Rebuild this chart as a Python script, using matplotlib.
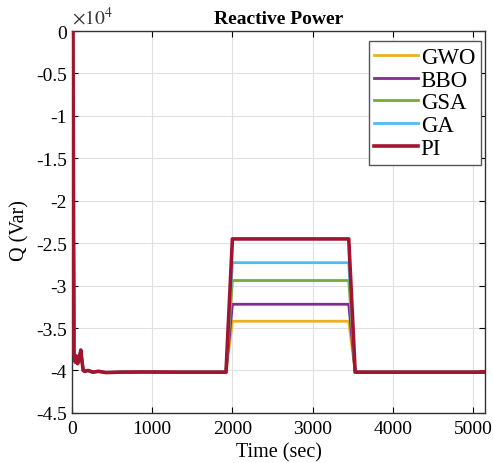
import matplotlib
matplotlib.use("Agg")
import matplotlib.pyplot as plt
from matplotlib.ticker import FuncFormatter

plt.rcParams['font.family'] = ['Liberation Serif', 'DejaVu Serif']
plt.rcParams['mathtext.fontset'] = 'stix'

# Controllers and their reactive power level during the step (Var)
names = ["GWO", "BBO", "GSA", "GA", "PI"]
colors = ["#EDB120", "#7E2F8E", "#77AC30", "#4DBEEE", "#A2142F"]
step_levels = [-34200, -32200, -29400, -27300, -24500]

# shared start-up transient (same for every controller)
t_start = [0, 12, 25, 40, 55, 70, 90, 110, 125, 140, 160, 200, 260, 330, 420, 600, 900, 1300, 1600, 1920]
q_start = [0, 0, -38000, -39000, -38300, -39200, -38600, -37600, -38900, -40000, -40100, -40000,
           -40200, -40100, -40250, -40200, -40180, -40200, -40200, -40200]

# step window
t_rise_end = 2000
t_fall_start = 3450
t_fall_end = 3530
t_end = 5150
q_base = -40200

fig = plt.figure(figsize=(4.93, 4.64), dpi=100)
ax = fig.add_axes([0.146, 0.108, 0.838, 0.823])

for name, col, lvl in zip(names, colors, step_levels):
    t = t_start + [t_rise_end, t_fall_start, t_fall_end, t_end]
    q = q_start + [lvl, lvl, q_base, q_base]
    lw = 2.6 if name == "PI" else 2.0
    ax.plot(t, q, color=col, lw=lw, label=name, zorder=3 if name == "PI" else 2)

ax.set_xlim(0, 5150)
ax.set_ylim(-45000, 0)
ax.set_xticks([0, 1000, 2000, 3000, 4000, 5000])
ax.set_yticks([-45000 + 5000 * i for i in range(10)])
ax.yaxis.set_major_formatter(FuncFormatter(lambda v, p: ("%g" % (v / 1e4)).replace("\u2212", "-")))
ax.tick_params(direction="in", top=True, right=True, labelsize=14, length=4, width=0.8)
ax.tick_params(axis="x", pad=5)
ax.tick_params(axis="y", pad=3.5)
ax.grid(True, color="#e0e0e0", lw=0.8)
for s in ax.spines.values():
    s.set_color("#333333")
    s.set_linewidth(1.0)

ax.text(0.0, 1.008, r"$\times10^{4}$", transform=ax.transAxes, fontsize=14, va="bottom", ha="left",
        color="#333333")
ax.set_title("Reactive Power", fontsize=14, fontweight="bold", pad=6)
ax.set_ylabel("Q (Var)", fontsize=14.5)
ax.set_xlabel("Time (sec)", fontsize=14.5, va="bottom")
ax.yaxis.set_label_coords(-0.102, 0.48)
ax.xaxis.set_label_coords(0.5, -0.127)

leg = ax.legend(loc="upper right", fontsize=16.5, frameon=True, fancybox=False, edgecolor="#555555",
                handlelength=1.9, handletextpad=0.12, labelspacing=0.08, borderpad=0.25,
                borderaxespad=0.0, bbox_to_anchor=(0.990, 0.974), framealpha=1.0)
leg.get_frame().set_linewidth(1.0)

fig.savefig("out.png", dpi=100)
